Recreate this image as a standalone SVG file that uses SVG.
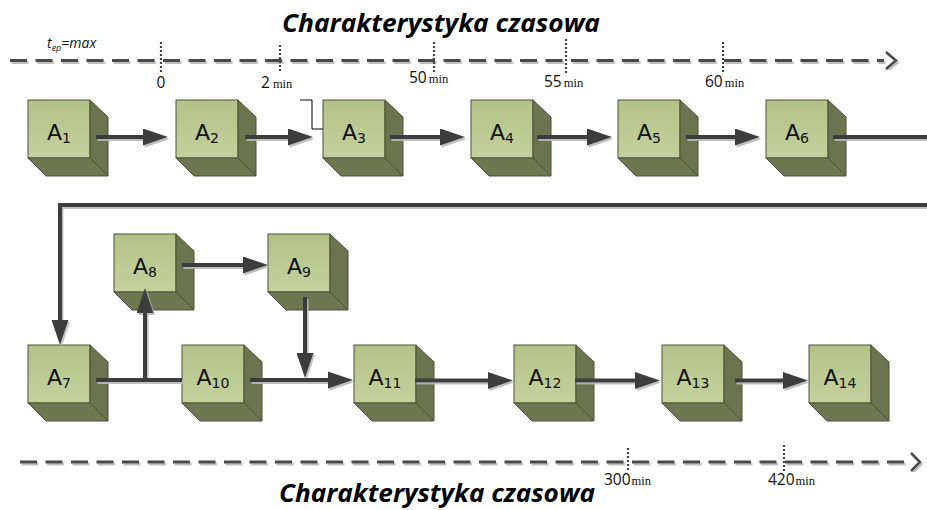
<svg xmlns="http://www.w3.org/2000/svg" width="927" height="510" viewBox="0 0 927 510">
<defs>
<linearGradient id="gFront" x1="0" y1="0" x2="0" y2="1">
<stop offset="0" stop-color="#b3c287"/>
<stop offset="1" stop-color="#c5d19d"/>
</linearGradient>
<marker id="ah" viewBox="0 0 25 17" markerWidth="25" markerHeight="17" refX="0" refY="8.5" orient="auto" markerUnits="userSpaceOnUse">
<path d="M0,0 L25,8.5 L0,17 Z" fill="#3d3d3d"/>
</marker>
<filter id="sh" x="-5%" y="-5%" width="110%" height="110%">
<feDropShadow dx="1.5" dy="2" stdDeviation="0.7" flood-color="#b8b8b8" flood-opacity="0.9"/>
</filter>
<g id="cube">
<rect x="0" y="0" width="62" height="58" fill="url(#gFront)" stroke="#4d5238" stroke-width="1"/>
<polygon points="62,0 80,17 80,76 62,58" fill="#6b7350" stroke="#4d5238" stroke-width="1"/>
<polygon points="0,58 62,58 80,76 18,76" fill="#6e7752" stroke="#4d5238" stroke-width="1"/>
</g>
</defs>
<style>
.lbl{font-family:"DejaVu Sans",Verdana,sans-serif;font-size:22px;fill:#111;text-anchor:middle}
.sub{font-size:14px}
.title{font-family:"Open Sans","Liberation Sans",sans-serif;font-weight:bold;font-style:italic;font-size:25px;fill:#000}
.tl{fill:none;stroke:#484848;stroke-width:3;stroke-dasharray:17 8.5}
.chev{fill:none;stroke:#484848;stroke-width:2.5}
.tick{stroke:#444;stroke-width:2.2;stroke-dasharray:2 2}
.num{font-family:"Open Sans","Liberation Sans",sans-serif;font-size:15.5px;fill:#111}
.min{font-family:"Liberation Serif",serif;font-size:12.5px;fill:#111}
.conn{fill:none;stroke:#3d3d3d;stroke-width:4}
.thin{fill:none;stroke:#000;stroke-width:1}
</style>
<rect width="927" height="510" fill="#fff"/>

<g id="timeline-top">
<text class="title" x="441" y="32" text-anchor="middle" textLength="318" lengthAdjust="spacingAndGlyphs">Charakterystyka czasowa</text>
<text x="47" y="48" font-family="'Open Sans','Liberation Sans',sans-serif" font-style="italic" font-size="14" fill="#111">t<tspan font-size="9" dy="3">ep</tspan><tspan dy="-3">=max</tspan></text>
<g filter="url(#sh)">
<line class="tl" x1="10" y1="60.5" x2="884" y2="60.5"/>
<polyline class="chev" points="886,52 896,60.5 886,69"/>
</g>
<line class="tick" x1="161" y1="42" x2="161" y2="72"/>
<line class="tick" x1="280" y1="45" x2="280" y2="72"/>
<line class="tick" x1="434" y1="42" x2="434" y2="72"/>
<line class="tick" x1="566" y1="39" x2="566" y2="75"/>
<line class="tick" x1="723" y1="42" x2="723" y2="72"/>
<text class="num" x="161" y="88" text-anchor="middle">0</text>
<text x="261" y="88"><tspan class="num">2</tspan><tspan class="min" dx="3">min</tspan></text>
<text x="409" y="83"><tspan class="num">50</tspan><tspan class="min" dx="2">min</tspan></text>
<text x="544" y="87"><tspan class="num">55</tspan><tspan class="min" dx="2">min</tspan></text>
<text x="705" y="87"><tspan class="num">60</tspan><tspan class="min" dx="2">min</tspan></text>
</g>

<g id="timeline-bottom">
<g filter="url(#sh)">
<line class="tl" x1="20" y1="462" x2="910" y2="462"/>
<polyline class="chev" points="911,453 920,462 911,471"/>
</g>
<line class="tick" x1="628" y1="448" x2="628" y2="472"/>
<line class="tick" x1="784" y1="445" x2="784" y2="472"/>
<text x="604" y="485"><tspan class="num">300</tspan><tspan class="min" dx="1">min</tspan></text>
<text x="768" y="485"><tspan class="num">420</tspan><tspan class="min" dx="1">min</tspan></text>
<text class="title" x="437" y="502" text-anchor="middle" textLength="316" lengthAdjust="spacingAndGlyphs">Charakterystyka czasowa</text>
</g>

<g id="A1"><use href="#cube" x="28" y="100"/><text class="lbl" x="59" y="140">A<tspan class="sub" dy="3">1</tspan></text></g>
<g id="A2"><use href="#cube" x="176" y="100"/><text class="lbl" x="207" y="140">A<tspan class="sub" dy="3">2</tspan></text></g>
<g id="A3"><use href="#cube" x="323" y="100"/><text class="lbl" x="354" y="140">A<tspan class="sub" dy="3">3</tspan></text></g>
<g id="A4"><use href="#cube" x="471" y="100"/><text class="lbl" x="502" y="140">A<tspan class="sub" dy="3">4</tspan></text></g>
<g id="A5"><use href="#cube" x="618" y="100"/><text class="lbl" x="649" y="140">A<tspan class="sub" dy="3">5</tspan></text></g>
<g id="A6"><use href="#cube" x="766" y="100"/><text class="lbl" x="797" y="140">A<tspan class="sub" dy="3">6</tspan></text></g>
<g id="A7"><use href="#cube" x="28" y="345"/><text class="lbl" x="59" y="385">A<tspan class="sub" dy="3">7</tspan></text></g>
<g id="A8"><use href="#cube" x="114" y="234"/><text class="lbl" x="145" y="274">A<tspan class="sub" dy="3">8</tspan></text></g>
<g id="A9"><use href="#cube" x="268" y="234"/><text class="lbl" x="299" y="274">A<tspan class="sub" dy="3">9</tspan></text></g>
<g id="A10"><use href="#cube" x="182" y="345"/><text class="lbl" x="213" y="385">A<tspan class="sub" dy="3">10</tspan></text></g>
<g id="A11"><use href="#cube" x="354" y="345"/><text class="lbl" x="385" y="385">A<tspan class="sub" dy="3">11</tspan></text></g>
<g id="A12"><use href="#cube" x="514" y="345"/><text class="lbl" x="545" y="385">A<tspan class="sub" dy="3">12</tspan></text></g>
<g id="A13"><use href="#cube" x="662" y="345"/><text class="lbl" x="693" y="385">A<tspan class="sub" dy="3">13</tspan></text></g>
<g id="A14"><use href="#cube" x="809" y="345"/><text class="lbl" x="840" y="385">A<tspan class="sub" dy="3">14</tspan></text></g>

<g id="connectors">
<polyline class="thin" points="300,100 312,100 312,129 323,129"/>
<g filter="url(#sh)">
<path class="conn" d="M96,137 H143" marker-end="url(#ah)"/>
<path class="conn" d="M245,137 H288" marker-end="url(#ah)"/>
<path class="conn" d="M390,137 H440" marker-end="url(#ah)"/>
<path class="conn" d="M537,137 H587" marker-end="url(#ah)"/>
<path class="conn" d="M686,137 H735" marker-end="url(#ah)"/>
<path class="conn" d="M833,137 H927"/>
<path class="conn" d="M927,205 H60 V320" marker-end="url(#ah)"/>
<path class="conn" d="M96,380 H182"/>
<path class="conn" d="M145,380 V313" marker-end="url(#ah)"/>
<path class="conn" d="M182,265 H243" marker-end="url(#ah)"/>
<path class="conn" d="M305,297 V353" marker-end="url(#ah)"/>
<path class="conn" d="M250,380 H328" marker-end="url(#ah)"/>
<path class="conn" d="M415,380.5 H488" marker-end="url(#ah)"/>
<path class="conn" d="M575,380.5 H635" marker-end="url(#ah)"/>
<path class="conn" d="M735,380.5 H783" marker-end="url(#ah)"/>
</g>
</g>
</svg>
